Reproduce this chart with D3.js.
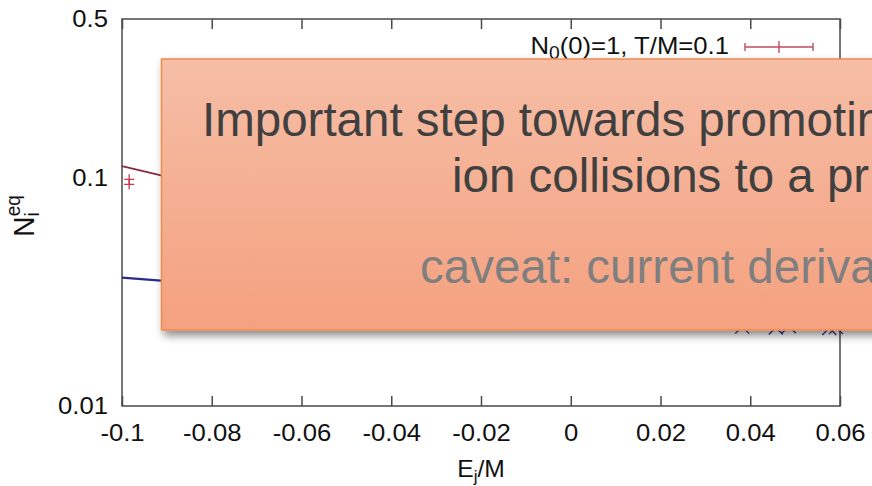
<!DOCTYPE html>
<html>
<head>
<meta charset="utf-8">
<script src="https://cdn.jsdelivr.net/npm/d3@7"></script>
<style>
  html, body { margin: 0; padding: 0; background: #fff; overflow: hidden; }
  svg { display: block; }
  text { font-family: "Liberation Sans", Arial, Helvetica, sans-serif; }
</style>
</head>
<body>
<script>
// ---------- data ----------
const xTicks = [-0.1, -0.08, -0.06, -0.04, -0.02, 0, 0.02, 0.04, 0.06];
const xTickLabels = ["-0.1", "-0.08", "-0.06", "-0.04", "-0.02", "0", "0.02", "0.04", "0.06"];
const yTicks = [0.01, 0.1, 0.5];
const yTickLabels = ["0.01", "0.1", "0.5"];

// red series: theory line and data points (N0(0)=1, T/M=0.1)
const redLineX = [-0.1, -0.0913, -0.08, -0.07, -0.06];
const redLineY = [0.113, 0.103, 0.092, 0.083, 0.075];
const redPtsX = [-0.0984, -0.0984];
const redPtsY = [0.0989, 0.0940];

// blue series: theory line and data points
const blueLineX = [-0.1, -0.0913, -0.06, -0.02, 0.02];
const blueLineY = [0.0366, 0.0355, 0.0330, 0.0295, 0.0262];
const bluePtsX = [0.0382, 0.0457, 0.0486, 0.0576, 0.0591];
const bluePtsY = [0.0223, 0.0221, 0.0224, 0.0220, 0.0222];

const legendLabel = ["N", "0", "(0)=1, T/M=0.1"];
// overlay callout text (as much as is visible in the cropped slide)
const overlayLines = [
  "Important step towards promotin",
  "ion collisions to a pr",
  "caveat: current deriva"
];

// ---------- layout ----------
const W = 872, H = 486;
const m = { left: 122, right: 840, top: 19, bottom: 406 };
const SX = 1.07; // horizontal stretch of the original plot image text

const svg = d3.select("body").append("svg").attr("width", W).attr("height", H);

const x = d3.scaleLinear().domain([-0.1, 0.06]).range([m.left, m.right]);
const y = d3.scaleLog().domain([0.01, 0.5]).range([m.bottom, m.top]);

const axisColor = "#4a4a4a";

// bottom axis
const gx = svg.append("g").attr("transform", `translate(0,${m.bottom})`)
  .call(d3.axisBottom(x).tickValues(xTicks).tickSizeInner(-10).tickSizeOuter(0)
    .tickPadding(18).tickFormat((d, i) => xTickLabels[i]));
gx.select(".domain").remove();
gx.selectAll(".tick line").attr("stroke", axisColor).attr("stroke-width", 1.5);
gx.selectAll(".tick text").attr("font-size", 24).attr("fill", "#111")
  .attr("font-family", "Liberation Sans, Arial, sans-serif")
  .attr("transform", `scale(${SX},1)`);

// top mirror ticks
const gt = svg.append("g").attr("transform", `translate(0,${m.top})`)
  .call(d3.axisTop(x).tickValues(xTicks).tickSizeInner(-10).tickSizeOuter(0).tickFormat(""));
gt.select(".domain").remove();
gt.selectAll(".tick line").attr("stroke", axisColor).attr("stroke-width", 1.5);

// left axis labels
const gy = svg.append("g").attr("transform", `translate(${m.left},0)`)
  .call(d3.axisLeft(y).tickValues(yTicks).tickSize(0).tickPadding(0)
    .tickFormat((d, i) => yTickLabels[i]));
gy.select(".domain").remove();
gy.selectAll(".tick text").attr("font-size", 24).attr("fill", "#111")
  .attr("font-family", "Liberation Sans, Arial, sans-serif")
  .attr("x", null)
  .attr("transform", `translate(-14,0) scale(${SX},1)`);

// frame
svg.append("rect")
  .attr("x", m.left).attr("y", m.top)
  .attr("width", m.right - m.left).attr("height", m.bottom - m.top)
  .attr("fill", "none").attr("stroke", axisColor).attr("stroke-width", 1.5);

// axis titles
const xt = svg.append("text")
  .attr("transform", `translate(${(m.left + m.right) / 2},477) scale(${SX},1)`)
  .attr("text-anchor", "middle").attr("font-size", 23).attr("fill", "#111");
xt.append("tspan").text("E");
xt.append("tspan").attr("font-size", 16).attr("dy", 5).text("j");
xt.append("tspan").attr("dy", -5).text("/M");

const yt = svg.append("text")
  .attr("transform", `translate(34,216) scale(${SX},1) rotate(-90)`)
  .attr("text-anchor", "middle").attr("font-size", 28).attr("fill", "#111");
yt.append("tspan").text("N");
yt.append("tspan").attr("font-size", 19).attr("dy", 5).text("i");
yt.append("tspan").attr("font-size", 19).attr("dx", -4).attr("dy", -18).text("eq");

// ---------- series ----------
const line = d3.line().x(d => x(d[0])).y(d => y(d[1]));
const redLine = redLineX.map((v, i) => [v, redLineY[i]]);
const blueLine = blueLineX.map((v, i) => [v, blueLineY[i]]);

svg.append("path").datum(redLine).attr("d", line)
  .attr("fill", "none").attr("stroke", "#8a2a3a").attr("stroke-width", 1.8);
svg.append("path").datum(blueLine).attr("d", line)
  .attr("fill", "none").attr("stroke", "#2a2a8e").attr("stroke-width", 2.2);

const redColor = "#c23a4e";
redPtsX.forEach((v, i) => {
  const cx = x(v), cy = y(redPtsY[i]);
  svg.append("path")
    .attr("d", `M${cx - 5},${cy}H${cx + 5}M${cx},${cy - 5}V${cy + 5}`)
    .attr("stroke", redColor).attr("stroke-width", 1.3).attr("fill", "none");
});

const blueColor = "#2d2d9c";
bluePtsX.forEach((v, i) => {
  const cx = x(v), cy = y(bluePtsY[i]);
  svg.append("path")
    .attr("d", `M${cx - 7},${cy - 7}L${cx + 7},${cy + 7}M${cx - 7},${cy + 7}L${cx + 7},${cy - 7}`)
    .attr("stroke", blueColor).attr("stroke-width", 1.3).attr("fill", "none");
});

// ---------- legend ----------
const lt = svg.append("text")
  .attr("transform", `translate(729,54) scale(${SX},1)`)
  .attr("text-anchor", "end").attr("font-size", 24).attr("fill", "#111");
lt.append("tspan").text(legendLabel[0]);
lt.append("tspan").attr("font-size", 18).attr("dy", 5).text(legendLabel[1]);
lt.append("tspan").attr("dy", -5).text(legendLabel[2]);

const ly = 47, lx1 = 745, lx2 = 813, lxm = 779;
svg.append("path")
  .attr("d", `M${lx1},${ly}H${lx2}M${lx1},${ly - 4}V${ly + 4}M${lx2},${ly - 4}V${ly + 4}M${lxm},${ly - 6}V${ly + 6}`)
  .attr("stroke", "#c24a5e").attr("stroke-width", 1.4).attr("fill", "none");

// ---------- overlay callout ----------
const defs = svg.append("defs");
const grad = defs.append("linearGradient").attr("id", "boxGrad")
  .attr("x1", 0).attr("y1", 0).attr("x2", 0).attr("y2", 1);
grad.append("stop").attr("offset", "0%").attr("stop-color", "#f6bea6");
grad.append("stop").attr("offset", "100%").attr("stop-color", "#f4a17f");
const filt = defs.append("filter").attr("id", "shadow")
  .attr("x", "-10%").attr("y", "-10%").attr("width", "130%").attr("height", "130%");
filt.append("feDropShadow").attr("dx", 3).attr("dy", 5).attr("stdDeviation", 4)
  .attr("flood-color", "#000").attr("flood-opacity", 0.45);

svg.append("rect")
  .attr("x", 161.5).attr("y", 59).attr("width", 760).attr("height", 271)
  .attr("fill", "url(#boxGrad)").attr("stroke", "#ef8a4c").attr("stroke-width", 1.5)
  .attr("filter", "url(#shadow)");

svg.append("text").attr("x", 202).attr("y", 136)
  .attr("font-size", 47.5).attr("fill", "#404040").text(overlayLines[0]);
svg.append("text").attr("x", 452).attr("y", 192)
  .attr("font-size", 47.5).attr("fill", "#404040").text(overlayLines[1]);
svg.append("text").attr("x", 420).attr("y", 283)
  .attr("font-size", 47.5).attr("fill", "#7f7f7f").text(overlayLines[2]);
</script>
</body>
</html>
